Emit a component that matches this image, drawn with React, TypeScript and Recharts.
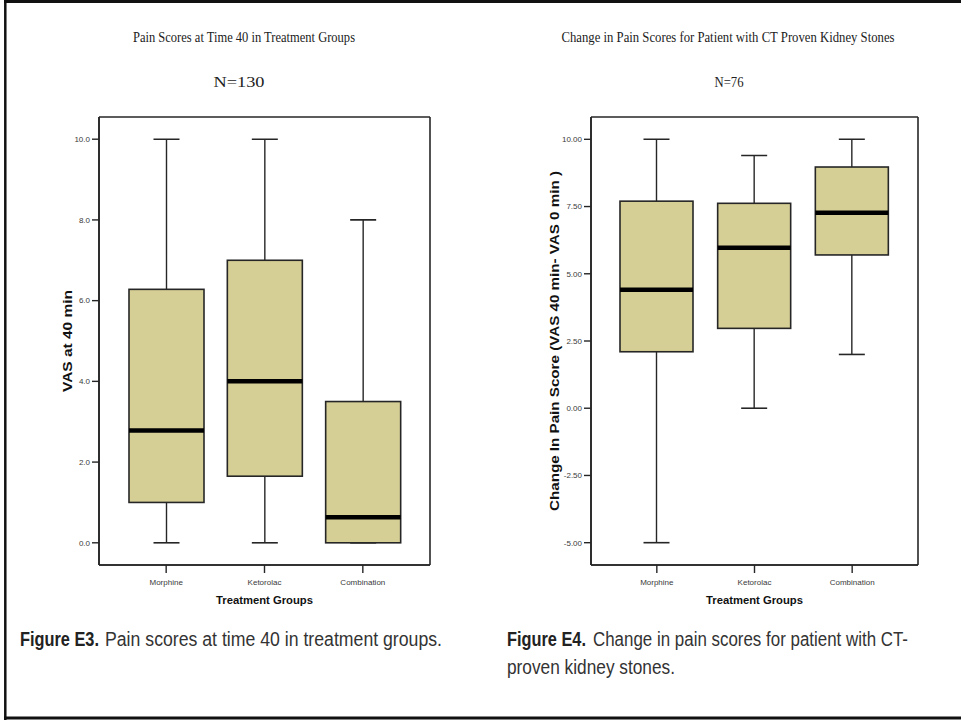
import React from "react";
import { ComposedChart, Bar, XAxis, YAxis, CartesianGrid } from "recharts";

const categories = ["Morphine", "Ketorolac", "Combination"];

// Figure E3 – VAS at 40 min
const vasLowWhisker = [0, 0, 0];
const vasQ1 = [1.0, 1.65, 0];
const vasMedian = [2.78, 4.0, 0.63];
const vasQ3 = [6.28, 7.0, 3.5];
const vasHighWhisker = [10, 10, 8];
const vasTicks = [0, 2, 4, 6, 8, 10];

// Figure E4 – change in pain score
const chgLowWhisker = [-5, 0, 2];
const chgQ1 = [2.1, 2.97, 5.7];
const chgMedian = [4.41, 5.97, 7.27];
const chgQ3 = [7.7, 7.62, 8.97];
const chgHighWhisker = [10, 9.4, 10];
const chgTicks = [-5, -2.5, 0, 2.5, 5, 7.5, 10];

const buildRows = (low: number[], q1: number[], med: number[], q3: number[], high: number[]) =>
  categories.map((name, i) => ({
    name,
    range: [low[i], high[i]],
    low: low[i],
    q1: q1[i],
    median: med[i],
    q3: q3[i],
    high: high[i],
  }));

const vasRows = buildRows(vasLowWhisker, vasQ1, vasMedian, vasQ3, vasHighWhisker);
const chgRows = buildRows(chgLowWhisker, chgQ1, chgMedian, chgQ3, chgHighWhisker);

const BOX_FILL = "#D6CF95";
const LINE = "#262626";

const BoxShape = (props: any) => {
  const { x, y, width, height, payload } = props;
  if (!payload) return null;
  const { low, high, q1, median, q3 } = payload;
  const top = Math.min(y, y + height);
  const h = Math.abs(height);
  const span = high - low || 1;
  const yOf = (v: number) => top + ((high - v) / span) * h;
  const cx = x + width / 2;
  const cap = 26;
  return (
    <g>
      <line x1={cx} x2={cx} y1={yOf(high)} y2={yOf(q3)} stroke={LINE} strokeWidth={1.4} />
      <line x1={cx} x2={cx} y1={yOf(q1)} y2={yOf(low)} stroke={LINE} strokeWidth={1.4} />
      <line x1={cx - cap / 2} x2={cx + cap / 2} y1={yOf(high)} y2={yOf(high)} stroke={LINE} strokeWidth={1.6} />
      <line x1={cx - cap / 2} x2={cx + cap / 2} y1={yOf(low)} y2={yOf(low)} stroke={LINE} strokeWidth={1.6} />
      <rect x={x} y={yOf(q3)} width={width} height={yOf(q1) - yOf(q3)} fill={BOX_FILL} stroke={LINE} strokeWidth={1.6} />
      <line x1={x} x2={x + width} y1={yOf(median)} y2={yOf(median)} stroke="#000" strokeWidth={4.5} />
    </g>
  );
};

const tickStyle = { fontFamily: "'Liberation Sans', Arial, sans-serif", fontSize: 8, fill: "#3a3a3a" };

const YLabel = (props: any) => {
  const { viewBox, value, len, back } = props;
  if (!viewBox) return null;
  const cx = viewBox.x + viewBox.width - back;
  const cy = viewBox.y + viewBox.height / 2;
  return (
    <text
      x={cx}
      y={cy}
      transform={`rotate(-90, ${cx}, ${cy})`}
      textAnchor="middle"
      dominantBaseline="central"
      fontFamily="'Liberation Sans', Arial, sans-serif"
      fontWeight="bold"
      fontSize={12}
      fill="#111"
      textLength={len}
      lengthAdjust="spacingAndGlyphs"
    >
      {value}
    </text>
  );
};

const XLabel = (props: any) => {
  const { viewBox, value } = props;
  if (!viewBox) return null;
  const cx = viewBox.x + viewBox.width / 2;
  return (
    <text
      x={cx}
      y={viewBox.y + 39}
      textAnchor="middle"
      fontFamily="'Liberation Sans', Arial, sans-serif"
      fontWeight="bold"
      fontSize={11}
      fill="#111"
      textLength={97}
      lengthAdjust="spacingAndGlyphs"
    >
      {value}
    </text>
  );
};

type PanelProps = {
  rows: any[];
  domain: [number, number];
  ticks: number[];
  digits: number;
  width: number;
  marginLeft: number;
  marginRight: number;
  padding: number;
  barSize: number;
  yLabel: string;
  yLabelLen: number;
  yLabelBack: number;
};

const frameH = (props: any) => {
  const o = props.offset;
  return [o.top, o.top + o.height];
};
const frameV = (props: any) => {
  const o = props.offset;
  return [o.left, o.left + o.width];
};

const Panel = (p: PanelProps) => (
  <ComposedChart
    width={p.width}
    height={721}
    data={p.rows}
    margin={{ top: 117, right: p.marginRight, bottom: 116, left: p.marginLeft }}
  >
    <CartesianGrid
      xAxisId="bottom"
      yAxisId="left"
      stroke={LINE}
      strokeWidth={1.6}
      fill="none"
      horizontalCoordinatesGenerator={frameH}
      verticalCoordinatesGenerator={frameV}
    />
    <XAxis
      xAxisId="bottom"
      dataKey="name"
      type="category"
      height={40}
      padding={{ left: p.padding, right: p.padding }}
      tickSize={8}
      tickMargin={6}
      tick={tickStyle}
      axisLine={{ stroke: LINE, strokeWidth: 1.6 }}
      tickLine={{ stroke: LINE, strokeWidth: 1.4 }}
      interval={0}
      label={<XLabel value="Treatment Groups" />}
    />
    <YAxis
      yAxisId="left"
      type="number"
      domain={p.domain}
      ticks={p.ticks}
      width={60}
      tickSize={7}
      tickMargin={2}
      tick={tickStyle}
      tickFormatter={(v: number) => v.toFixed(p.digits)}
      axisLine={{ stroke: LINE, strokeWidth: 1.6 }}
      tickLine={{ stroke: LINE, strokeWidth: 1.4 }}
      allowDataOverflow
      label={<YLabel value={p.yLabel} len={p.yLabelLen} back={p.yLabelBack} />}
    />
    <Bar
      xAxisId="bottom"
      yAxisId="left"
      dataKey="range"
      barSize={p.barSize}
      shape={BoxShape}
      isAnimationActive={false}
    />
  </ComposedChart>
);

const serif = "'Liberation Serif', 'Times New Roman', serif";
const narrow = "'Liberation Sans Narrow', 'Arial Narrow', 'Liberation Sans', Arial, sans-serif";

const Caption = ({ x, y, bold, boldLen, rest, restX, restLen }: any) => (
  <g>
    {bold ? (
      <text x={x} y={y} fontFamily={narrow} fontWeight="bold" fontSize={19.5} fill="#222" textLength={boldLen} lengthAdjust="spacingAndGlyphs">
        {bold}
      </text>
    ) : null}
    <text x={restX} y={y} fontFamily={narrow} fontSize={19.5} fill="#333" textLength={restLen} lengthAdjust="spacingAndGlyphs">
      {rest}
    </text>
  </g>
);

export default function App() {
  return (
    <div style={{ position: "absolute", left: 0, top: 0, width: 961, height: 721, background: "#fff", overflow: "hidden" }}>
      <svg width={961} height={721} style={{ position: "absolute", left: 0, top: 0 }}>
        <line x1={4} x2={961} y1={1.5} y2={1.5} stroke="#111" strokeWidth={3} />
        <line x1={5.3} x2={5.3} y1={0} y2={720} stroke="#111" strokeWidth={2.5} />
        <line x1={4} x2={961} y1={718} y2={718} stroke="#111" strokeWidth={3} />

        <text x={244} y={42} textAnchor="middle" fontFamily={serif} fontSize={14} fill="#222" textLength={222} lengthAdjust="spacingAndGlyphs">
          Pain Scores at Time 40 in Treatment Groups
        </text>
        <text x={239} y={87} textAnchor="middle" fontFamily={serif} fontSize={14} fill="#222" textLength={51} lengthAdjust="spacingAndGlyphs">
          N=130
        </text>
        <text x={728} y={42} textAnchor="middle" fontFamily={serif} fontSize={14} fill="#222" textLength={333} lengthAdjust="spacingAndGlyphs">
          Change in Pain Scores for Patient with CT Proven Kidney Stones
        </text>
        <text x={729} y={87} textAnchor="middle" fontFamily={serif} fontSize={14} fill="#222" textLength={29} lengthAdjust="spacingAndGlyphs">
          N=76
        </text>

        <Caption x={20} y={646} bold="Figure E3." boldLen={79} restX={105} rest="Pain scores at time 40 in treatment groups." restLen={337} />
        <Caption x={507} y={646} bold="Figure E4." boldLen={79} restX={593} rest="Change in pain scores for patient with CT-" restLen={315} />
        <Caption restX={507} y={674} rest="proven kidney stones." restLen={168} />
      </svg>

      <div style={{ position: "absolute", left: 0, top: 0 }}>
        <Panel
          rows={vasRows}
          domain={[-0.55, 10.55]}
          ticks={vasTicks}
          digits={1}
          width={480}
          marginLeft={39}
          marginRight={50}
          padding={18}
          barSize={75}
          yLabel="VAS at 40 min"
          yLabelLen={102}
          yLabelBack={31}
        />
      </div>
      <div style={{ position: "absolute", left: 480, top: 0 }}>
        <Panel
          rows={chgRows}
          domain={[-5.83, 10.83]}
          ticks={chgTicks}
          digits={2}
          width={481}
          marginLeft={51}
          marginRight={43}
          padding={17}
          barSize={73}
          yLabel="Change In Pain Score (VAS 40 min- VAS 0 min )"
          yLabelLen={340}
          yLabelBack={36}
        />
      </div>
    </div>
  );
}
